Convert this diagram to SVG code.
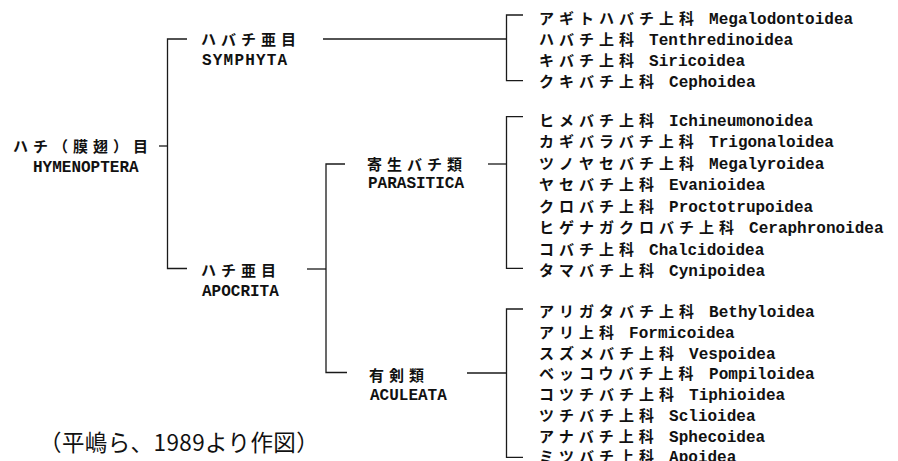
<svg xmlns="http://www.w3.org/2000/svg" width="898" height="461" viewBox="0 0 898 461">
<style>
.bg{fill:#ffffff}
.jp{font-family:"Noto Sans CJK JP","Noto Sans CJK SC",sans-serif;font-size:15px;font-weight:bold;letter-spacing:5px;fill:#111}
.la{font-family:"Liberation Mono","DejaVu Sans Mono",monospace;font-size:16px;font-weight:bold;letter-spacing:0;fill:#111}
.cite{font-family:"Noto Sans CJK JP","Noto Sans CJK SC",sans-serif;font-size:22.5px;font-weight:normal;letter-spacing:0.4px;fill:#111}
.ln{fill:none;stroke:#1a1a1a;stroke-width:1.3}
</style>
<rect class="bg" x="0" y="0" width="898" height="461"/>

<g id="connectors">
<path class="ln" d="M159 146 H167.5"/>
<path class="ln" d="M187 39 H167.5 V268.5 H187"/>
<path class="ln" d="M323 39 H506.5"/>
<path class="ln" d="M523 15 H506.5 V80.7 H523"/>
<path class="ln" d="M307 269 H326"/>
<path class="ln" d="M345 164 H326 V372.5 H347"/>
<path class="ln" d="M488 164 H506.5"/>
<path class="ln" d="M523 116.7 H506.5 V268.3 H523"/>
<path class="ln" d="M467 373 H506.5"/>
<path class="ln" d="M523 309 H506.5 V457.3 H523"/>
</g>

<g id="hymenoptera">
<text class="jp" x="13" y="152.2">ハチ（膜翅）目</text>
<text class="la" x="33" y="172">HYMENOPTERA</text>
</g>
<g id="symphyta">
<text class="jp" x="201" y="44.7">ハバチ亜目</text>
<text class="la" x="202" y="65.4" style="letter-spacing:1.2px">SYMPHYTA</text>
</g>
<g id="apocrita">
<text class="jp" x="201" y="276.2">ハチ亜目</text>
<text class="la" x="202" y="296">APOCRITA</text>
</g>
<g id="parasitica">
<text class="jp" x="367" y="169.7">寄生バチ類</text>
<text class="la" x="368" y="188.4">PARASITICA</text>
</g>
<g id="aculeata">
<text class="jp" x="369" y="380.7">有剣類</text>
<text class="la" x="370" y="400.4">ACULEATA</text>
</g>

<g id="symphyta-families">
<text y="24.4"><tspan class="jp" x="539">アギトハバチ上科</tspan><tspan class="la" x="699.5"> Megalodontoidea</tspan></text>
<text y="45.2"><tspan class="jp" x="539">ハバチ上科</tspan><tspan class="la" x="639.5"> Tenthredinoidea</tspan></text>
<text y="66"><tspan class="jp" x="539">キバチ上科</tspan><tspan class="la" x="639.5"> Siricoidea</tspan></text>
<text y="86.8"><tspan class="jp" x="539">クキバチ上科</tspan><tspan class="la" x="659.5"> Cephoidea</tspan></text>
</g>

<g id="parasitica-families">
<text y="125.6"><tspan class="jp" x="539">ヒメバチ上科</tspan><tspan class="la" x="659.5"> Ichineumonoidea</tspan></text>
<text y="147.1"><tspan class="jp" x="539">カギバラバチ上科</tspan><tspan class="la" x="699.5"> Trigonaloidea</tspan></text>
<text y="168.7"><tspan class="jp" x="539">ツノヤセバチ上科</tspan><tspan class="la" x="699.5"> Megalyroidea</tspan></text>
<text y="190.2"><tspan class="jp" x="539">ヤセバチ上科</tspan><tspan class="la" x="659.5"> Evanioidea</tspan></text>
<text y="211.7"><tspan class="jp" x="539">クロバチ上科</tspan><tspan class="la" x="659.5"> Proctotrupoidea</tspan></text>
<text y="233.3"><tspan class="jp" x="539">ヒゲナガクロバチ上科</tspan><tspan class="la" x="739.5"> Ceraphronoidea</tspan></text>
<text y="254.8"><tspan class="jp" x="539">コバチ上科</tspan><tspan class="la" x="639.5"> Chalcidoidea</tspan></text>
<text y="276.3"><tspan class="jp" x="539">タマバチ上科</tspan><tspan class="la" x="659.5"> Cynipoidea</tspan></text>
</g>

<g id="aculeata-families">
<text y="317.3"><tspan class="jp" x="539">アリガタバチ上科</tspan><tspan class="la" x="699.5"> Bethyloidea</tspan></text>
<text y="338"><tspan class="jp" x="539">アリ上科</tspan><tspan class="la" x="619.5"> Formicoidea</tspan></text>
<text y="358.7"><tspan class="jp" x="539">スズメバチ上科</tspan><tspan class="la" x="679.5"> Vespoidea</tspan></text>
<text y="379.4"><tspan class="jp" x="539">ベッコウバチ上科</tspan><tspan class="la" x="699.5"> Pompiloidea</tspan></text>
<text y="400.1"><tspan class="jp" x="539">コツチバチ上科</tspan><tspan class="la" x="679.5"> Tiphioidea</tspan></text>
<text y="420.8"><tspan class="jp" x="539">ツチバチ上科</tspan><tspan class="la" x="659.5"> Sclioidea</tspan></text>
<text y="441.5"><tspan class="jp" x="539">アナバチ上科</tspan><tspan class="la" x="659.5"> Sphecoidea</tspan></text>
<text y="462.2"><tspan class="jp" x="539">ミツバチ上科</tspan><tspan class="la" x="659.5"> Apoidea</tspan></text>
</g>

<g id="citation">
<text class="cite" x="39" y="451">（平嶋ら、1989より作図）</text>
</g>
</svg>
